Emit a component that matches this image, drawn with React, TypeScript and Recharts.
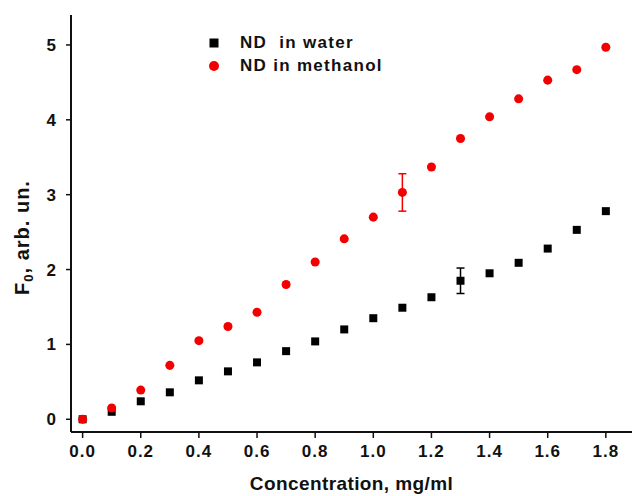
import React from 'react';
import { ScatterChart, Scatter, XAxis, YAxis, ZAxis, ErrorBar, Legend } from 'recharts';

const concentration = [0.0, 0.1, 0.2, 0.3, 0.4, 0.5, 0.6, 0.7, 0.8, 0.9, 1.0, 1.1, 1.2, 1.3, 1.4, 1.5, 1.6, 1.7, 1.8];
const waterValues = [0.0, 0.1, 0.24, 0.36, 0.52, 0.64, 0.76, 0.91, 1.04, 1.2, 1.35, 1.49, 1.63, 1.85, 1.95, 2.09, 2.28, 2.53, 2.78];
const waterErrors: (number | undefined)[] = [undefined, undefined, undefined, undefined, undefined, undefined, undefined, undefined, undefined, undefined, undefined, undefined, undefined, 0.17, undefined, undefined, undefined, undefined, undefined];
const methanolValues = [0.0, 0.15, 0.39, 0.72, 1.05, 1.24, 1.43, 1.8, 2.1, 2.41, 2.7, 3.03, 3.37, 3.75, 4.04, 4.28, 4.53, 4.67, 4.97];
const methanolErrors: (number | undefined)[] = [undefined, undefined, undefined, undefined, undefined, undefined, undefined, undefined, undefined, undefined, undefined, 0.25, undefined, undefined, undefined, undefined, undefined, undefined, undefined];
const xTicks = [0, 0.2, 0.4, 0.6, 0.8, 1.0, 1.2, 1.4, 1.6, 1.8];
const yTicks = [0, 1, 2, 3, 4, 5];
const seriesNames = ['ND  in water', 'ND in methanol'];

const waterData = concentration.map((x, i) => ({ x, y: waterValues[i], err: waterErrors[i] }));
const methanolData = concentration.map((x, i) => ({ x, y: methanolValues[i], err: methanolErrors[i] }));

const FONT = '"Liberation Sans", Arial, sans-serif';
const RED = '#f20000';
const BLACK = '#000000';

const YLabel = (props: any) => {
  const vb = props.viewBox || {};
  const cx = 22;
  const cy = (vb.y ?? 15) + (vb.height ?? 417) / 2 + 14;
  return (
    <text
      x={cx}
      y={cy}
      transform={`rotate(-90, ${cx}, ${cy})`}
      textAnchor="middle"
      dominantBaseline="central"
      fontFamily={FONT}
      fontWeight="bold"
      fontSize={20}
      letterSpacing={1}
      fill="#111"
    >
      <tspan>F</tspan>
      <tspan fontSize={13} dy={6}>0</tspan>
      <tspan dy={-6}>, arb. un.</tspan>
    </text>
  );
};

const LegendContent = (props: any) => {
  const items = [
    { name: seriesNames[0], color: BLACK, shape: 'square' },
    { name: seriesNames[1], color: RED, shape: 'circle' },
  ];
  return (
    <div style={{ fontFamily: FONT, fontWeight: 'bold', fontSize: 17, letterSpacing: 1.3, color: '#111' }}>
      {items.map((it) => (
        <div key={it.name} style={{ display: 'flex', alignItems: 'center', height: 23 }}>
          <svg width={12} height={12} style={{ marginRight: 20 }}>
            {it.shape === 'square' ? (
              <rect x={1.5} y={1.5} width={9} height={9} fill={it.color} />
            ) : (
              <circle cx={6} cy={6} r={5} fill={it.color} />
            )}
          </svg>
          <span style={{ whiteSpace: 'pre' }}>{it.name}</span>
        </div>
      ))}
    </div>
  );
};

export default function App() {
  return (
    <div style={{ position: 'absolute', left: 0, top: 0, width: 633, height: 496, background: '#fff' }}>
      <ScatterChart width={633} height={496} margin={{ top: 15, right: 1, bottom: 0, left: 0 }}>
        <XAxis
          type="number"
          dataKey="x"
          domain={[-0.04, 1.89]}
          ticks={xTicks}
          allowDataOverflow
          tickFormatter={(v: number) => v.toFixed(1)}
          height={64}
          axisLine={{ stroke: '#111', strokeWidth: 2 }}
          tickLine={{ stroke: '#111', strokeWidth: 1.5 }}
          tickSize={6}
          tickMargin={7}
          tick={{ fontFamily: FONT, fontWeight: 'bold', fontSize: 17, letterSpacing: 1, fill: '#111' }}
          label={{
            value: 'Concentration, mg/ml',
            position: 'insideBottom',
            offset: 6,
            style: { fontFamily: FONT, fontWeight: 'bold', fontSize: 19, letterSpacing: 0.4, fill: '#111' },
          }}
        />
        <YAxis
          type="number"
          dataKey="y"
          domain={[-0.17, 5.4]}
          ticks={yTicks}
          allowDataOverflow
          width={71}
          axisLine={{ stroke: '#111', strokeWidth: 2 }}
          tickLine={{ stroke: '#111', strokeWidth: 1.5 }}
          tickSize={5}
          tickMargin={10}
          tick={{ fontFamily: FONT, fontWeight: 'bold', fontSize: 17, fill: '#111' }}
          label={<YLabel />}
        />
        <ZAxis range={[80, 80]} />
        <Legend
          content={<LegendContent />}
          layout="vertical"
          verticalAlign="middle"
          align="center"
          wrapperStyle={{ position: 'absolute', left: 208, top: 31, width: 240 }}
        />
        <Scatter name={seriesNames[0]} data={waterData} fill={BLACK} shape="square" isAnimationActive={false}>
          <ErrorBar dataKey="err" direction="y" width={4} stroke={BLACK} strokeWidth={1.5} />
        </Scatter>
        <Scatter name={seriesNames[1]} data={methanolData} fill={RED} shape="circle" isAnimationActive={false}>
          <ErrorBar dataKey="err" direction="y" width={4} stroke={RED} strokeWidth={1.5} />
        </Scatter>
      </ScatterChart>
    </div>
  );
}
